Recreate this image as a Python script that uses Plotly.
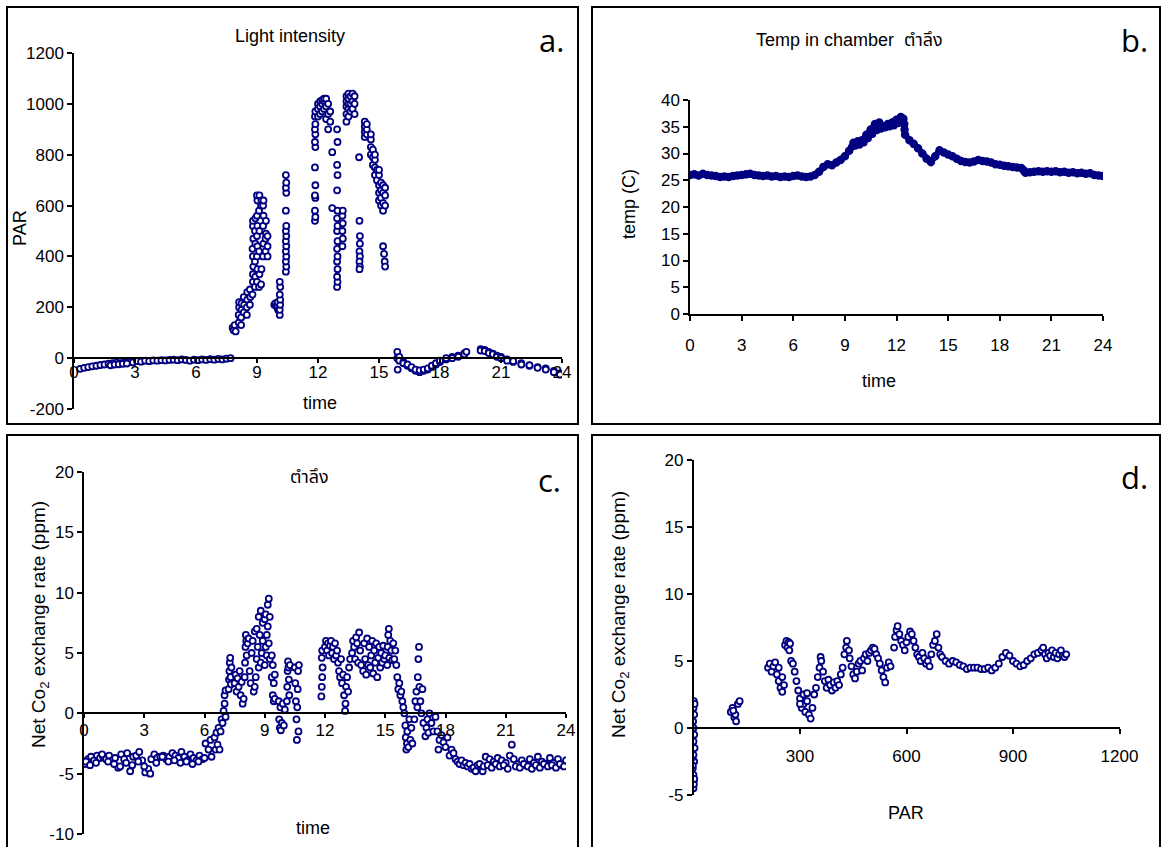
import plotly.graph_objects as go

W, H = 1163, 847
BASE = "Liberation Sans, Arial, Noto Sans Thai, Noto Sans, DejaVu Sans, sans-serif"
LBL = "Open Sans, Noto Sans, sans-serif"
NAVY = "#000080"

# ---------------- panel a: Light intensity (time, PAR) ----------------
a_time = [
    0.3, 0.5, 0.7, 0.9, 1.1, 1.3, 1.5, 1.7, 1.9, 2.1, 2.3, 2.5, 2.7, 2.9, 3.1, 3.3, 3.5, 3.7, 3.9,
    4.1, 4.3, 4.5, 4.7, 4.9, 5.1, 5.3, 5.5, 5.7, 5.9, 6.1, 6.3, 6.5, 6.7, 6.9, 7.1, 7.3, 7.5, 7.7,
    1.8, 2.0, 2.2, 2.4, 2.6,
    7.8, 7.85, 7.9, 7.95,
    8.1, 8.1, 8.12, 8.12,
    8.22, 8.22, 8.24, 8.24,
    8.35, 8.37, 8.35,
    8.5, 8.5, 8.52, 8.52,
    8.65, 8.67, 8.65,
    8.78, 8.8, 8.8, 8.82, 8.8, 8.78, 8.82, 8.8, 8.8,
    8.9, 8.92, 8.9, 8.92, 8.9, 8.92,
    9.0, 9.02, 9.0, 9.02, 9.0, 9.02, 9.0, 9.02, 9.0,
    9.1, 9.12, 9.1, 9.12, 9.1, 9.12,
    9.2, 9.22, 9.2, 9.22,
    9.3, 9.32, 9.3, 9.32, 9.3, 9.32,
    9.42, 9.42, 9.44, 9.44,
    9.52, 9.52, 9.52,
    9.85, 9.9, 9.95,
    10.0, 10.02, 10.04,
    10.12, 10.12, 10.14, 10.14, 10.12, 10.14, 10.12,
    10.42, 10.44, 10.42, 10.44, 10.42, 10.44, 10.42, 10.44, 10.42, 10.44, 10.42, 10.44, 10.42, 10.44, 10.42,
    11.85, 11.87, 11.85, 11.87, 11.85, 11.87, 11.85, 11.87, 11.85, 11.87, 11.85, 11.87, 11.85, 11.87,
    12.0, 12.0, 12.0, 12.1, 12.1, 12.1, 12.2, 12.2, 12.2, 12.3, 12.3, 12.3, 12.4, 12.4, 12.4, 12.5, 12.5, 12.5, 12.6, 12.6,
    12.7, 12.7,
    12.94, 12.96, 12.94, 12.96, 12.94, 12.96, 12.94, 12.96, 12.94, 12.96, 12.94, 12.96, 12.94, 12.96, 12.94, 12.96, 12.94,
    13.2, 13.22, 13.2, 13.22, 13.2, 13.22,
    13.4, 13.4, 13.4, 13.4, 13.4, 13.5, 13.5, 13.5, 13.5, 13.5, 13.6, 13.6, 13.6, 13.7, 13.7, 13.7, 13.8, 13.8, 13.8,
    14.02, 14.04, 14.06, 14.06, 14.04, 14.06, 14.04, 14.06, 14.04,
    14.3, 14.3, 14.3, 14.3, 14.4, 14.4, 14.4,
    14.6, 14.6, 14.6, 14.6, 14.7, 14.7, 14.7, 14.8, 14.8, 14.8, 14.8, 14.9, 14.9,
    15.0, 15.0, 15.0, 15.0, 15.0, 15.1, 15.1, 15.1, 15.1, 15.2, 15.2, 15.2, 15.2, 15.3, 15.3, 15.3,
    15.2, 15.25, 15.28, 15.3,
    15.9, 15.9, 15.92, 16.0, 16.0, 16.2, 16.2, 16.4, 16.4, 16.6, 16.6, 16.8, 16.8, 17.0, 17.0, 17.2, 17.2,
    17.4, 17.4, 17.6, 17.6, 17.8, 17.8, 18.0, 18.0, 18.3, 18.3, 18.6, 18.6, 18.9, 18.9, 19.2, 19.2, 19.3,
    20.0, 20.0, 20.2, 20.2, 20.4, 20.4, 20.6, 20.6, 20.8, 20.8, 21.0, 21.0, 21.3, 21.3,
    21.6, 21.6, 22.0, 22.0, 22.4, 22.4, 22.8, 22.8, 23.2, 23.2, 23.6, 23.6, 23.9, 23.9,
]
a_par = [
    -42, -38, -35, -32, -30, -27, -25, -22, -20, -18, -20, -16, -15, -17, -12, -14, -10, -12, -9,
    -10, -8, -9, -7, -6, -8, -5, -7, -10, -6, -8, -5, -7, -4, -6, -3, -5, -2, 0,
    -28, -25, -24, -22, -21,
    120, 110, 130, 105,
    140, 170, 200, 220,
    130, 160, 190, 215,
    180, 210, 240,
    170, 200, 230, 260,
    210, 240, 270,
    250, 300, 330, 360, 400, 430, 470, 520, 540,
    280, 320, 380, 450, 500, 550,
    300, 350, 400, 440, 480, 520, 560, 620, 640,
    280, 330, 420, 500, 580, 640,
    290, 350, 600, 620,
    400, 450, 520, 560, 600, 620,
    420, 470, 490, 540,
    400, 440, 480,
    210, 215, 205,
    200, 220, 190,
    170, 190, 210, 230, 250, 280, 300,
    340, 360, 380, 400, 420, 440, 460, 480, 500, 520, 580, 650, 670, 690, 720,
    540, 555, 580, 630, 640, 680, 750, 830, 850, 880, 900, 920, 950, 970,
    950, 980, 1000, 960, 990, 1010, 970, 1000, 1015, 980, 1010, 1020, 940, 990, 1020, 900, 960, 1000, 930, 970,
    810, 590,
    280, 300, 320, 350, 380, 400, 430, 460, 500, 520, 550, 580, 660, 720, 760, 850, 900,
    440, 470, 500, 530, 560, 580,
    930, 960, 990, 1010, 1030, 950, 980, 1000, 1020, 1040, 970, 1000, 1030, 980, 1010, 1040, 960, 1000, 1030,
    790, 540, 480, 450, 420, 400, 380, 360, 350,
    870, 890, 910, 930, 880, 900, 920,
    800, 830, 860, 880, 760, 790, 820, 720, 750, 780, 800, 740, 700,
    620, 650, 680, 720, 740, 600, 630, 660, 690, 580, 610, 650, 680, 600, 640, 670,
    440, 410, 380, 360,
    25, 0, -45, 5, -10, -15, -20, -30, -25, -40, -35, -50, -45, -55, -48, -50, -45,
    -45, -40, -35, -30, -25, -20, -15, -10, -5, 0, 5, 0, 10, 5, 20, 15, 25,
    35, 30, 32, 28, 25, 20, 18, 15, 10, 5, 5, 0, -5, -10,
    -15, -12, -20, -25, -30, -28, -35, -38, -40, -45, -50, -55, -60, -65,
]

# ---------------- panel b: Temp in chamber (time, temp) ----------------
b_time = [
    0.0, 0.25, 0.5, 0.75, 1.0, 1.25, 1.5, 1.75, 2.0, 2.25, 2.5, 2.75, 3.0, 3.25, 3.5, 3.75, 4.0, 4.25, 4.5, 4.75,
    5.0, 5.25, 5.5, 5.75, 6.0, 6.25, 6.5, 6.75, 7.0,
    7.25, 7.5, 7.75, 8.0, 8.25, 8.5, 8.75, 9.0, 9.25, 9.5, 9.75, 10.0, 10.25, 10.5, 10.75, 11.0, 11.25, 11.5,
    11.75, 12.0, 12.25, 12.4, 12.45, 12.47,
    12.5, 12.75, 13.0, 13.25, 13.5, 13.75, 14.0, 14.25, 14.5, 14.75, 15.0, 15.25, 15.5, 15.75, 16.0, 16.25,
    16.5, 16.75, 17.0, 17.25, 17.5, 17.75, 18.0, 18.25, 18.5, 18.75, 19.0, 19.25, 19.4,
    19.5, 19.75, 20.0, 20.25, 20.5, 20.75, 21.0, 21.25, 21.5, 21.75, 22.0, 22.25, 22.5, 22.75, 23.0, 23.25,
    23.5, 23.75, 24.0,
]
b_temp = [
    26.0, 26.1, 25.9, 26.2, 26.0, 25.9, 25.8, 25.6, 25.7, 25.6, 25.8, 25.9, 26.0, 26.1, 26.2, 26.0, 25.9, 25.8, 25.9, 25.7,
    25.8, 25.6, 25.7, 25.6, 25.8, 25.9, 25.7, 25.6, 25.7,
    26.0, 26.6, 27.5, 28.0, 27.8, 28.3, 28.8, 29.5, 30.5, 32.0, 32.3, 32.5, 33.5, 34.5, 35.5, 35.8, 35.0, 35.5,
    35.8, 36.3, 36.8, 36.5, 35.5, 34.5,
    33.5, 32.5, 31.8, 31.0, 30.0, 29.0, 28.4, 29.5, 30.6, 30.2, 29.8, 29.5, 29.0, 28.6, 28.4, 28.3,
    28.5, 28.8, 28.6, 28.5, 28.3, 28.0, 27.9, 27.7, 27.6, 27.5, 27.4, 27.3, 26.8,
    26.4, 26.5, 26.6, 26.7, 26.6, 26.7, 26.6, 26.7, 26.5, 26.6, 26.4, 26.5, 26.3, 26.4, 26.2, 26.3,
    26.0, 25.9, 25.8,
]
# second (lower) band of readings during the warm-up
b2_time = [9.4, 9.6, 9.85, 10.1, 10.35, 10.6, 10.85, 11.1, 11.35, 11.6, 11.85, 12.1]
b2_temp = [31.2, 31.4, 31.6, 32.0, 32.8, 33.6, 34.3, 34.6, 34.8, 35.0, 35.2, 35.6]

# ---------------- panel c: Net CO2 exchange rate (time, ppm) ----------------
c_time = [
    0.05, 0.2, 0.35, 0.5, 0.65, 0.8, 0.95, 1.1, 1.25, 1.4, 1.55, 1.7, 1.85, 2.0, 2.15, 2.3, 2.45, 2.6, 2.75, 2.9,
    3.05, 3.2, 3.35, 3.5, 3.65, 3.8, 3.95, 4.1, 4.25, 4.4, 4.55, 4.7, 4.85, 5.0, 5.15, 5.3, 5.45, 5.6, 5.75, 5.9,
    6.05, 6.2, 6.35,
    0.1, 0.3, 0.6, 0.9, 1.2, 1.5, 1.8, 2.1, 2.4, 2.7, 3.0, 3.3, 3.6, 3.9, 4.2, 4.5, 4.8, 5.1, 5.4, 5.7, 6.0, 6.3,
    6.5, 6.55, 6.6, 6.65, 6.7, 6.75, 6.8, 6.85, 6.9, 6.95, 7.0, 7.0, 7.05, 7.05,
    7.2, 7.22, 7.24, 7.26, 7.28, 7.3, 7.32, 7.34,
    7.5, 7.55, 7.6, 7.65, 7.7, 7.75, 7.8, 7.85, 7.9, 7.95,
    8.0, 8.02, 8.04, 8.06, 8.08, 8.1, 8.15, 8.2, 8.25, 8.3, 8.35, 8.4,
    8.45, 8.5, 8.5, 8.55, 8.6, 8.6, 8.65, 8.7, 8.7, 8.75, 8.8, 8.8, 8.85, 8.9, 8.9,
    9.0, 9.0, 9.05, 9.05, 9.1, 9.1, 9.15, 9.15, 9.2, 9.2, 9.25, 9.25,
    9.35, 9.35, 9.4, 9.4, 9.45, 9.45, 9.5, 9.5,
    9.7, 9.72, 9.75, 9.78, 9.8, 9.85, 9.9, 9.95, 10.0,
    10.1, 10.12, 10.14, 10.16, 10.18, 10.2, 10.22, 10.25,
    10.5, 10.52, 10.55, 10.58, 10.6, 10.62, 10.64, 10.66, 10.68, 10.7,
    11.82, 11.84, 11.86, 11.88, 11.84, 11.86,
    12.0, 12.05, 12.1, 12.15, 12.2, 12.25, 12.3, 12.35, 12.4, 12.45, 12.5, 12.55, 12.6,
    12.65, 12.7, 12.75, 12.8, 12.85, 12.9, 12.95, 13.0, 13.02, 13.05, 13.1, 13.15, 13.2, 13.25,
    13.35, 13.4, 13.45, 13.5, 13.55, 13.6, 13.65, 13.7, 13.75, 13.8,
    13.9, 13.95, 14.0, 14.05, 14.1, 14.15, 14.2, 14.25, 14.3, 14.35, 14.4, 14.45, 14.5, 14.55, 14.6, 14.65,
    14.7, 14.75, 14.8, 14.85, 14.9, 14.95, 15.0,
    15.1, 15.12, 15.15, 15.18, 15.2, 15.25, 15.3, 15.35, 15.4, 15.45, 15.5, 15.55,
    15.6, 15.65, 15.7, 15.75, 15.8, 15.85, 15.9, 15.95,
    16.0, 16.02, 16.05, 16.08, 16.1, 16.15, 16.2, 16.25, 16.3, 16.35,
    16.45, 16.5, 16.55, 16.6, 16.62, 16.65, 16.68, 16.7, 16.75, 16.8, 16.85, 16.9,
    17.0, 17.05, 17.1, 17.15, 17.2, 17.3, 17.4, 17.5,
    17.6, 17.65, 17.7, 17.8, 17.9, 18.0, 18.1, 18.2, 18.3, 18.4,
    18.5, 18.6, 18.7, 18.8, 18.9, 19.0, 19.1, 19.2, 19.3, 19.4, 19.5, 19.6, 19.7, 19.85, 19.9,
    20.0, 20.2, 20.4, 20.6, 20.8, 21.0, 21.2, 21.3, 21.4, 21.6, 21.8, 22.0, 22.2, 22.4, 22.6, 22.8, 23.0, 23.2,
    23.4, 23.6, 23.8, 24.0,
    20.1, 20.3, 20.5, 20.7, 20.9, 21.1, 21.5, 21.7, 21.9, 22.1, 22.3, 22.5, 22.7, 22.9, 23.1, 23.3, 23.5, 23.7, 23.9,
]
c_ncer = [
    -4.2, -3.8, -3.6, -3.9, -3.5, -3.7, -3.6, -3.8, -3.5, -3.9, -3.7, -4.5, -3.4, -3.8, -3.3, -4.8, -3.6, -3.5, -3.2, -3.9,
    -4.9, -4.6, -3.8, -3.4, -3.7, -3.6, -3.5, -3.8, -3.6, -3.3, -3.5, -3.7, -3.2, -3.6, -3.9, -3.4, -3.7, -3.9, -3.5, -3.8,
    -2.5, -3.0, -3.6,
    -4.0, -4.3, -4.1, -3.4, -4.0, -4.2, -4.4, -4.1, -4.3, -4.0, -4.4, -5.0, -4.1, -3.6, -4.0, -3.9, -4.1, -4.0, -4.2, -4.0, -3.7, -2.2,
    -2.0, -3.0, -1.6, -2.6, -1.2, -3.0, -1.5, -0.5, -0.8, 0.2, 0.8, 1.5, 1.9, -0.3,
    2.0, 2.8, 3.5, 4.2, 4.6, 3.0, 2.4, 3.8,
    2.5, 3.2, 1.8, 2.9, 2.2, 3.5, 1.5, 2.6, 0.8, 1.2,
    3.0, 4.2, 5.5, 6.5, 6.0, 4.8, 5.8, 6.2, 3.5, 2.5, 5.0, 6.0,
    1.8, 2.2, 6.8, 3.0, 4.5, 7.0, 5.5, 3.8, 8.0, 6.5, 4.2, 8.5, 5.0, 6.0, 7.5,
    4.0, 7.8, 5.5, 8.2, 4.8, 6.5, 7.2, 9.0, 5.8, 9.5, 4.5, 8.0,
    4.8, 3.0, 4.0, 1.5, 2.5, 1.0, 3.2, 1.2,
    1.0, -0.5, -1.2, 0.5, -1.4, -0.8, 0.8, -1.0, 0.3,
    1.0, 2.2, 3.5, 4.3, 3.8, 2.8, 1.5, 4.0,
    3.8, 2.5, 1.0, -0.5, -2.2, 0.5, 2.0, 3.5, -1.5, 4.0,
    1.4, 2.2, 3.0, 3.8, 4.6, 5.2,
    5.5, 6.0, 5.2, 5.8, 4.8, 5.6, 6.0, 5.0, 5.5, 4.5, 5.8, 4.8, 5.2,
    4.2, 3.5, 3.0, 4.5, 2.5, 3.2, 1.5, 0.2, 0.8, 2.2, 3.0, 1.8, 3.8, 4.5,
    5.0, 6.0, 5.5, 4.5, 6.3, 5.8, 4.2, 6.7, 5.2, 4.0,
    3.5, 5.8, 4.5, 3.2, 6.2, 4.0, 5.5, 3.8, 4.8, 6.0, 3.3, 5.2, 4.2, 5.8, 3.0, 4.6,
    5.5, 3.8, 5.0, 4.2, 5.6, 4.5, 4.8,
    4.0, 5.5, 6.5, 7.0, 4.6, 6.0, 5.2, 4.4, 5.8, 4.5, 5.2, 4.0,
    3.0, 2.0, 2.5, 1.5, 1.8, 1.0, 0.5, 0.0,
    -1.0, -2.0, -3.0, -2.5, -1.5, -2.8, -0.5, -2.2, -1.2, -2.5,
    -0.5, 1.0, 1.8, 0.5, 3.0, 4.5, 5.5, 2.2, 1.0, 0.0, 2.0, -0.8,
    -1.9, -1.2, -0.5, -1.6, 0.0, -0.8, -1.5, -0.3,
    -1.5, -3.0, -2.2, -1.8, -2.4, -2.8, -2.0, -3.5, -3.0, -3.3,
    -3.8, -4.0, -4.2, -3.9, -4.3, -4.1, -4.4, -4.2, -4.6, -4.5, -4.8, -4.3, -4.2, -4.8, -4.4,
    -3.6, -3.8, -4.0, -3.7, -3.9, -4.1, -3.5, -2.6, -3.8, -4.2, -3.9, -4.3, -3.8, -4.1, -3.6, -4.0, -4.2, -3.7,
    -4.1, -3.8, -4.3, -3.9,
    -4.3, -4.5, -4.2, -4.4, -4.3, -4.6, -4.4, -4.5, -4.2, -4.4, -4.6, -4.3, -4.5, -4.2, -4.4, -4.3, -4.5, -4.2, -4.4,
]

# ---------------- panel d: Net CO2 exchange rate vs PAR ----------------
d_par = [
    0, 0, 0, -2, 2, -3, 0, 3, 0, 2, 0, -1, 2, 0, 1, 3, -2, 1, 2,
    105, 110, 115, 120, 118, 125, 130, 112,
    210, 215, 220, 225, 230, 235, 240, 240, 245, 250, 250, 255, 258, 262, 265, 270, 268, 272, 275, 280,
    285, 290, 295, 300, 305, 310, 315, 320, 325, 330, 335, 300, 310, 320,
    340, 345, 350, 355, 358, 360, 365, 370, 375, 380, 385, 390, 395, 400, 405, 410, 415, 420, 425, 430,
    432, 438, 440, 445, 450, 455, 460, 465, 470, 475, 480, 485, 490, 495, 500, 505, 510, 515, 520, 525,
    530, 535, 540, 545, 550, 555,
    565, 568, 572, 575, 580, 585, 590, 595, 600, 605, 610, 615, 620, 625, 630, 635, 640, 645, 650, 655,
    660, 665, 670, 675, 680, 685, 690, 695, 700, 710, 720, 730, 740, 750, 760, 770, 780, 790, 800, 810,
    820, 830, 840, 850, 860, 870, 880, 890, 900, 910, 920, 930, 940, 950, 960, 970, 980, 985, 990, 995,
    1000, 1005, 1010, 1015, 1020, 1025, 1030, 1035, 1040, 1045, 1050,
]
d_ncer = [
    -4.5, -4.0, -3.5, -3.0, -2.5, -2.2, -2.0, -1.5, -1.0, -0.5, 0.0, 0.5, 1.0, 1.5, 2.0, 1.8, -2.8, -4.2, -3.8,
    1.2, 1.5, 0.8, 0.5, 1.0, 1.8, 2.0, 1.3,
    4.5, 4.8, 4.2, 4.6, 4.9, 4.0, 3.5, 4.5, 3.0, 2.7, 3.8, 3.2, 6.2, 6.5, 6.0, 5.8, 6.4, 6.3, 5.0, 4.8,
    4.2, 3.5, 2.8, 2.2, 1.5, 1.8, 1.2, 2.0, 1.0, 0.7, 1.5, 1.8, 2.5, 2.6,
    2.5, 3.0, 3.8, 4.5, 5.3, 5.0, 4.2, 3.5, 3.0, 3.6, 3.2, 2.8, 3.4, 3.0, 3.5, 3.2, 4.0, 4.5, 5.5, 6.0,
    6.5, 5.8, 5.2, 4.6, 4.0, 3.7, 4.2, 4.8, 5.0, 4.3, 5.2, 5.5, 5.0, 5.6, 5.8, 6.0, 5.9, 5.5, 5.2, 4.8,
    4.3, 3.8, 3.4, 4.5, 4.9, 4.6,
    6.0, 6.8, 7.3, 7.6, 7.0, 6.5, 6.2, 5.8, 6.4, 6.8, 7.2, 7.0, 6.5, 6.0, 5.5, 5.3, 5.0, 5.6, 5.2, 4.8,
    5.0, 4.6, 5.5, 6.2, 6.5, 7.0, 6.0, 5.5, 5.3, 5.0, 4.8, 5.0, 4.9, 4.7, 4.6, 4.4, 4.5, 4.5, 4.5, 4.4,
    4.4, 4.5, 4.3, 4.5, 4.8, 5.3, 5.6, 5.4, 5.0, 4.8, 4.6, 4.7, 5.0, 5.2, 5.5, 5.6, 5.8, 6.0, 5.5, 5.2,
    5.6, 5.4, 5.8, 5.3, 5.6, 5.2, 5.5, 5.8, 5.4, 5.3, 5.5,
]

time_ticks = [0, 3, 6, 9, 12, 15, 18, 21, 24]
a_yticks = [-200, 0, 200, 400, 600, 800, 1000, 1200]
b_yticks = [0, 5, 10, 15, 20, 25, 30, 35, 40]
c_yticks = [-10, -5, 0, 5, 10, 15, 20]
d_yticks = [-5, 0, 5, 10, 15, 20]
d_xticks = [300, 600, 900, 1200]


def fx(px):
    return px / W


def fy(py):
    return 1 - py / H


def marker(size=6, lw=1.8, fill="white"):
    return dict(symbol="circle", size=size, color=fill, line=dict(color=NAVY, width=lw))


def axis(domain, rng, ticks, **kw):
    d = dict(domain=domain, range=rng, tickmode="array", tickvals=ticks,
             ticktext=[str(t) for t in ticks], showline=True, linecolor="black",
             linewidth=1.5, ticks="outside", ticklen=5, tickwidth=1.5, tickcolor="black",
             showgrid=False, zeroline=False, fixedrange=True,
             tickfont=dict(size=17, family=BASE, color="black"))
    d.update(kw)
    return d


fig = go.Figure()
fig.add_trace(go.Scatter(x=a_time, y=a_par, mode="markers", marker=marker(), xaxis="x", yaxis="y"))
fig.add_trace(go.Scatter(x=b_time, y=b_temp, mode="lines+markers", line=dict(color=NAVY, width=6),
                         marker=marker(7, 1.5, NAVY), xaxis="x2", yaxis="y2"))
fig.add_trace(go.Scatter(x=b2_time, y=b2_temp, mode="lines+markers", line=dict(color=NAVY, width=5),
                         marker=marker(6, 1.5, NAVY), xaxis="x2", yaxis="y2"))
fig.add_trace(go.Scatter(x=c_time, y=c_ncer, mode="markers", marker=marker(), xaxis="x3", yaxis="y3"))
fig.add_trace(go.Scatter(x=d_par, y=d_ncer, mode="markers", marker=marker(), xaxis="x4", yaxis="y4"))

# panel a geometry
a_y_top, a_y_bot = 53, 409
a_zero = a_y_bot - (a_y_bot - a_y_top) * 200 / 1400
# panel c geometry
c_y_top, c_y_bot = 472, 834
c_zero = c_y_bot - (c_y_bot - c_y_top) * 10 / 30
# panel d geometry
d_y_top, d_y_bot = 460, 795
d_zero = d_y_bot - (d_y_bot - d_y_top) * 5 / 25

fig.update_layout(
    autosize=True, margin=dict(l=0, r=0, t=0, b=0, autoexpand=False),
    paper_bgcolor="white", plot_bgcolor="white", showlegend=False,
    xaxis=axis([fx(74), fx(562)], [0, 24], time_ticks, anchor="free", position=fy(a_zero),
               ticklen=4, ticklabelstandoff=-5),
    yaxis=axis([fy(a_y_bot), fy(a_y_top)], [-200, 1200], a_yticks, anchor="x"),
    xaxis2=axis([fx(690), fx(1103)], [0, 24], time_ticks, anchor="y2", ticklabelstandoff=10),
    yaxis2=axis([fy(314), fy(100)], [0, 40], b_yticks, anchor="x2"),
    xaxis3=axis([fx(84), fx(566)], [0, 24], time_ticks, anchor="free", position=fy(c_zero),
                ticklen=4, ticklabelstandoff=-2),
    yaxis3=axis([fy(c_y_bot), fy(c_y_top)], [-10, 20], c_yticks, anchor="x3"),
    xaxis4=axis([fx(693.5), fx(1119.5)], [0, 1200], d_xticks, anchor="free", position=fy(d_zero),
                ticklabelstandoff=8),
    yaxis4=axis([fy(d_y_bot), fy(d_y_top)], [-5, 20], d_yticks, anchor="x4"),
)


def ann(text, x, y, size=18, angle=0, family=BASE):
    return dict(text=text, x=fx(x), y=fy(y), xref="paper", yref="paper", showarrow=False,
                xanchor="center", yanchor="middle", textangle=angle,
                font=dict(size=size, family=family, color="black"))


co2 = "Net Co<sub>2</sub> exchange rate (ppm)"
fig.update_layout(annotations=[
    ann("Light intensity", 290, 36),
    ann("a.", 551, 40, 31, family=LBL),
    ann("PAR", 20, 228, 18, -90),
    ann("time", 320, 403, 18),
    ann("Temp in chamber  ตำลึง", 849, 40),
    ann("b.", 1134, 40, 31, family=LBL),
    ann("temp (C)", 629, 204, 18, -90),
    ann("time", 879, 381, 18),
    ann("ตำลึง", 309, 477),
    ann("c.", 549, 480, 31, family=LBL),
    ann(co2, 40, 625, 19, -90),
    ann("time", 313, 828, 18),
    ann("d.", 1134, 477, 31, family=LBL),
    ann(co2, 620, 615, 19, -90),
    ann("PAR", 906, 813, 18),
])

border = dict(color="black", width=2)
fig.update_layout(shapes=[
    dict(type="rect", xref="paper", yref="paper", x0=fx(7), x1=fx(578), y0=fy(424), y1=fy(7), line=border),
    dict(type="rect", xref="paper", yref="paper", x0=fx(592), x1=fx(1160), y0=fy(424), y1=fy(7), line=border),
    dict(type="rect", xref="paper", yref="paper", x0=fx(7), x1=fx(578), y0=fy(850), y1=fy(435), line=border),
    dict(type="rect", xref="paper", yref="paper", x0=fx(592), x1=fx(1160), y0=fy(850), y1=fy(435), line=border),
])

fig.write_html(
    "out.html",
    default_width="100vw", default_height="100vh",
    config={"displayModeBar": False, "responsive": True},
    post_script=("document.documentElement.style.margin='0';document.body.style.margin='0';"
                 "document.documentElement.style.overflow='hidden';document.body.style.overflow='hidden';"
                 "Plotly.Plots.resize(document.getElementById('{plot_id}'));"),
)
